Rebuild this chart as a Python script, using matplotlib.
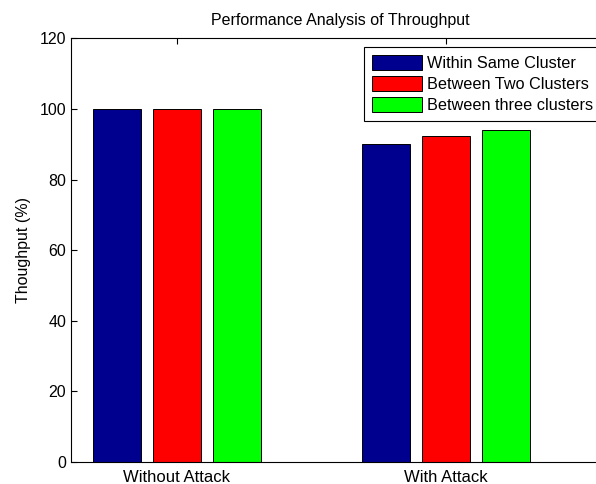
import numpy as np
import matplotlib.pyplot as plt

plt.rcParams['font.family'] = ['Liberation Sans', 'DejaVu Sans']

# data
categories = ['Without Attack', 'With Attack']
series_names = ['Within Same Cluster', 'Between Two Clusters', 'Between three clusters']
same_cluster = [100, 90]
two_clusters = [100, 92.3]
three_clusters = [100, 94]
colors = ['#00008f', '#ff0000', '#00ff00']

fig = plt.figure(figsize=(5.96, 4.84), dpi=100)
ax = fig.add_axes([0.1191, 0.0455, 0.9027, 0.8753])

x = np.arange(1, len(categories) + 1)
width = 0.178
step = 0.2216
for i, (vals, name) in enumerate(zip([same_cluster, two_clusters, three_clusters], series_names)):
    ax.bar(x + (i - 1) * step, vals, width, color=colors[i], edgecolor='black',
           linewidth=0.7, label=name)

ax.set_xlim(0.606, 2.606)
ax.set_ylim(0, 120)
ax.set_yticks(np.arange(0, 121, 20))
ax.set_xticks(x)
ax.set_xticklabels(categories)
ax.set_axisbelow(True)
ax.tick_params(direction='in', length=4, width=0.8, labelsize=11.5, top=True, colors='black')
ax.tick_params(axis='x', pad=6, labelsize=12)
ax.spines['right'].set_visible(False)
for s in ['left', 'top', 'bottom']:
    ax.spines[s].set_linewidth(0.8)

ax.set_ylabel('Thoughput (%)', fontsize=11.5, labelpad=6)
ax.set_title('Performance Analysis of Throughput', fontsize=11.5, pad=9.5)

leg = ax.legend(loc='upper left', bbox_to_anchor=(0.5446, 0.980), fontsize=11.7,
                handlelength=3.1, handleheight=1.05, labelspacing=0.3, handletextpad=0.3,
                borderpad=0.5, borderaxespad=0, fancybox=False, framealpha=1)
leg.get_frame().set_edgecolor('black')
leg.get_frame().set_linewidth(0.8)

fig.savefig('out.png', dpi=100)
